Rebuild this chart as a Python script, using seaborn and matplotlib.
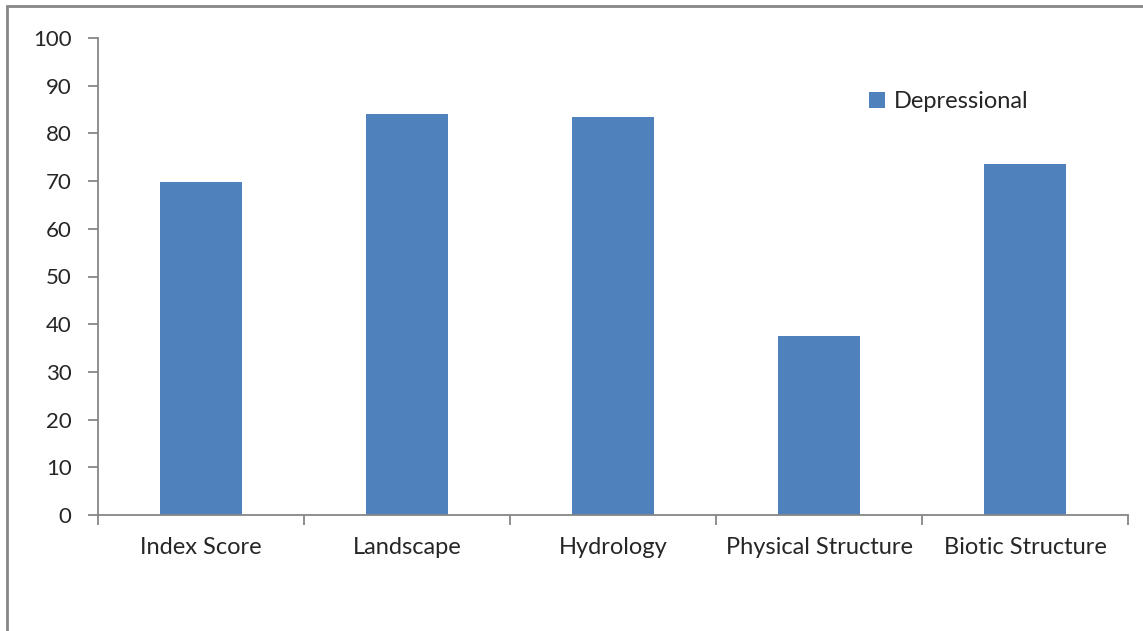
import numpy as np
import pandas as pd
import seaborn as sns
import matplotlib.pyplot as plt
from matplotlib.patches import Rectangle, Patch

categories = ["Index Score", "Landscape", "Hydrology", "Physical Structure", "Biotic Structure"]
values = [69.8, 84.1, 83.4, 37.5, 73.6]
series_name = "Depressional"
yticks = [0, 10, 20, 30, 40, 50, 60, 70, 80, 90, 100]

bar_color = "#4F81BD"
axis_color = "#868686"

sns.set_style("white")
plt.rcParams['font.family'] = ['Lato', 'DejaVu Sans']

df = pd.DataFrame({"category": categories, "value": values, "series": series_name})

W, H = 1143, 631
fig = plt.figure(figsize=(W / 100, H / 100), dpi=100)
ax = fig.add_axes([98 / W, 1 - 515 / H, (1128 - 98) / W, (515 - 38) / H])

sns.barplot(data=df, x="category", y="value", color=bar_color, width=0.4,
            saturation=1, ax=ax, legend=False, linewidth=0)

ax.set_ylim(0, 100)
ax.set_xlim(-0.5, len(categories) - 0.5)
ax.set_yticks(yticks)
ax.set_yticklabels([str(t) for t in yticks], fontsize=16)
ax.set_xlabel("")
ax.set_ylabel("")

# category labels centred, ticks at category boundaries
ax.set_xticks(np.arange(len(categories)))
ax.set_xticklabels(categories, fontsize=17)
ax.tick_params(axis="x", which="major", length=0, pad=16, bottom=True)
ax.set_xticks(np.arange(len(categories) + 1) - 0.5, minor=True)
ax.tick_params(axis="x", which="minor", length=7, width=1.3, color=axis_color,
               direction="out", bottom=True)
ax.tick_params(axis="y", length=7, width=1.3, color=axis_color, direction="out",
               pad=12, left=True)

for side in ["top", "right"]:
    ax.spines[side].set_visible(False)
for side in ["left", "bottom"]:
    ax.spines[side].set_color(axis_color)
    ax.spines[side].set_linewidth(1.3)

handles = [Patch(facecolor=bar_color, edgecolor="none")]
fig.legend(handles, [series_name], loc="center left",
           bbox_to_anchor=(848 / W, 1 - 102 / H), frameon=False, fontsize=17,
           handlelength=0.65, handleheight=0.65, handletextpad=0.4)

# chart area border
fig.patches.append(Rectangle((7 / W, -0.1), 1.2, 1 - 6 / H + 0.1, transform=fig.transFigure,
                             fill=False, edgecolor=axis_color, linewidth=2))

fig.savefig("out.png", dpi=100)
